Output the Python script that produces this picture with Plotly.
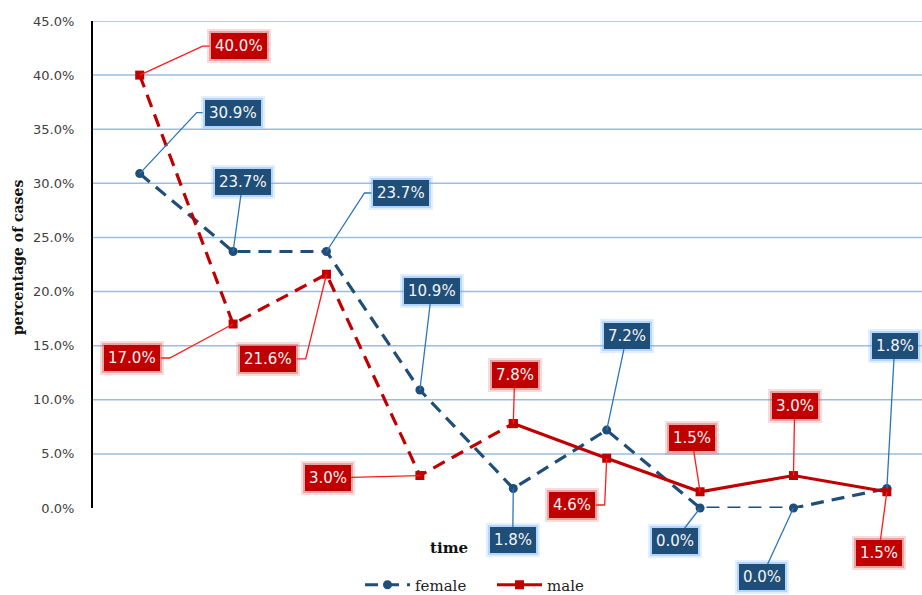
import plotly.graph_objects as go

# Time points (ordinal) and share of cases per sex, in percent
time_points = [1, 2, 3, 4, 5, 6, 7, 8, 9]
female = [30.9, 23.7, 23.7, 10.9, 1.8, 7.2, 0.0, 0.0, 1.8]
male = [40.0, 17.0, 21.6, 3.0, 7.8, 4.6, 1.5, 3.0, 1.5]
y_ticks = [0, 5, 10, 15, 20, 25, 30, 35, 40, 45]

# Label callout offsets in screen pixels (dx right, dy down) from each point.
# Leaders with an elbow list their bend points; the rest run straight to the box.
female_box = [(93, -61), (9.6, -69.5), (75, -58.5), (11.8, -99), (-0.6, 51.5),
              (20, -94), (-25.4, 33), (-31.8, 69), (7.8, -142.5)]
female_elbow = [[(57, -61), (63, -61)], None, [(38, -58.5), (45, -58.5)],
                None, None, None, None, None, None]
male_box = [(99, -29), (-101.4, 34), (-58.8, 84.7), (-92, 2.5), (1.4, -48.6),
            (-35, 46.8), (-8.4, -53.8), (1.2, -69.5), (-8.2, 61.2)]
male_elbow = [[(63, -29), (70, -29)], [(-63.4, 34), (-72.4, 34)],
              [(-20.8, 84.7), (-29.8, 84.7)], None, None,
              [(-2, 46.8), (-11, 46.8)], None, None, None]

FEMALE = "#1F4E79"
MALE = "#C00000"
xs = list(range(len(time_points)))

fig = go.Figure()

# female: dashed throughout
fig.add_trace(go.Scatter(
    x=xs, y=female, name="female", mode="lines+markers", cliponaxis=False,
    line=dict(color=FEMALE, width=3.2, dash="13px,8px"),
    marker=dict(symbol="circle", size=9, color=FEMALE),
))
# male: dashed for the early periods, solid afterwards
split = 4
fig.add_trace(go.Scatter(
    x=xs[:split + 1], y=male[:split + 1], name="male", mode="lines+markers",
    cliponaxis=False,
    line=dict(color=MALE, width=3.2, dash="13px,8px"),
    marker=dict(symbol="square", size=9, color=MALE), showlegend=False,
))
fig.add_trace(go.Scatter(
    x=xs[split:], y=male[split:], name="male", mode="lines+markers", cliponaxis=False,
    line=dict(color=MALE, width=3.2),
    marker=dict(symbol="square", size=9, color=MALE),
))

shapes = []
annotations = []

# horizontal gridlines (none at 0)
for t in y_ticks[1:]:
    shapes.append(dict(type="line", xref="paper", x0=0, x1=1, yref="y", y0=t, y1=t,
                       line=dict(color="#9DBDDD", width=1.5), layer="below"))


def add_callouts(values, boxes, elbows, fill, glow, lead_color):
    for i, v in enumerate(values):
        dx, dy = boxes[i]
        txt = f"{v:.1f}%"
        elbow = elbows[i]
        if elbow:
            pts = [(0, 0)] + elbow
            path = "M" + " L".join(f"{px},{-py}" for px, py in pts)
            shapes.append(dict(type="path", xsizemode="pixel", ysizemode="pixel",
                               xanchor=i, yanchor=v, xref="x", yref="y", path=path,
                               line=dict(color=lead_color, width=1.3), layer="above"))
        # soft halo behind the box
        for pad, col in ((8, glow.format(0.2)), (6, glow.format(0.4))):
            annotations.append(dict(x=i, y=v, xref="x", yref="y", text=txt,
                                    showarrow=False, xshift=dx, yshift=-dy,
                                    font=dict(family="DejaVu Sans", size=15,
                                              color="rgba(0,0,0,0)"),
                                    bgcolor=col, borderpad=pad, borderwidth=0))
        box = dict(x=i, y=v, xref="x", yref="y", text=txt,
                   font=dict(family="DejaVu Sans", size=15, color="#F4F4F4"),
                   bgcolor=fill, borderpad=4, borderwidth=0)
        if elbow:
            box.update(showarrow=False, xshift=dx, yshift=-dy)
        else:
            box.update(showarrow=True, ax=dx, ay=dy, arrowhead=0, arrowwidth=1.3,
                       arrowcolor=lead_color, standoff=0, startstandoff=0)
        annotations.append(box)


add_callouts(female, female_box, female_elbow, FEMALE, "rgba(110,175,255,{})", "#2E75B6")
add_callouts(male, male_box, male_elbow, MALE, "rgba(215,80,80,{})", "#FF1A1A")

# axis titles
annotations.append(dict(text="<b>time</b>", xref="paper", yref="paper",
                        x=(449 - 93) / 829, y=(508 - 548) / 487,
                        xanchor="center", yanchor="middle", showarrow=False,
                        font=dict(family="DejaVu Serif", size=15, color="#111111")))
annotations.append(dict(text="<b>percentage of cases</b>", xref="paper", yref="paper",
                        x=(18 - 93) / 829, y=(508 - 258) / 487, textangle=-90,
                        xanchor="center", yanchor="middle", showarrow=False,
                        font=dict(family="DejaVu Serif", size=14, color="#111111")))

fig.update_layout(
    width=922, height=595,
    margin=dict(l=93, r=0, t=21, b=87),
    paper_bgcolor="white", plot_bgcolor="white",
    showlegend=True,
    legend=dict(orientation="h", xref="container", yref="container",
                x=360 / 922, xanchor="left", y=1 - 585 / 595, yanchor="middle",
                itemwidth=45, entrywidth=72,
                font=dict(family="DejaVu Serif", size=15, color="#222222"),
                bgcolor="rgba(0,0,0,0)"),
    xaxis=dict(range=[-0.5, 8.376], showgrid=False, zeroline=False, showline=False,
               showticklabels=False, ticks=""),
    yaxis=dict(range=[0, 45], tickvals=y_ticks, ticktext=[f"{t:.1f}%" for t in y_ticks],
               showgrid=False, zeroline=False, showline=True, linecolor="black",
               linewidth=2, ticks="", ticklabelstandoff=14,
               tickfont=dict(family="DejaVu Sans", size=13, color="#404040")),
    shapes=shapes,
    annotations=annotations,
)

fig.write_html("out.html")
